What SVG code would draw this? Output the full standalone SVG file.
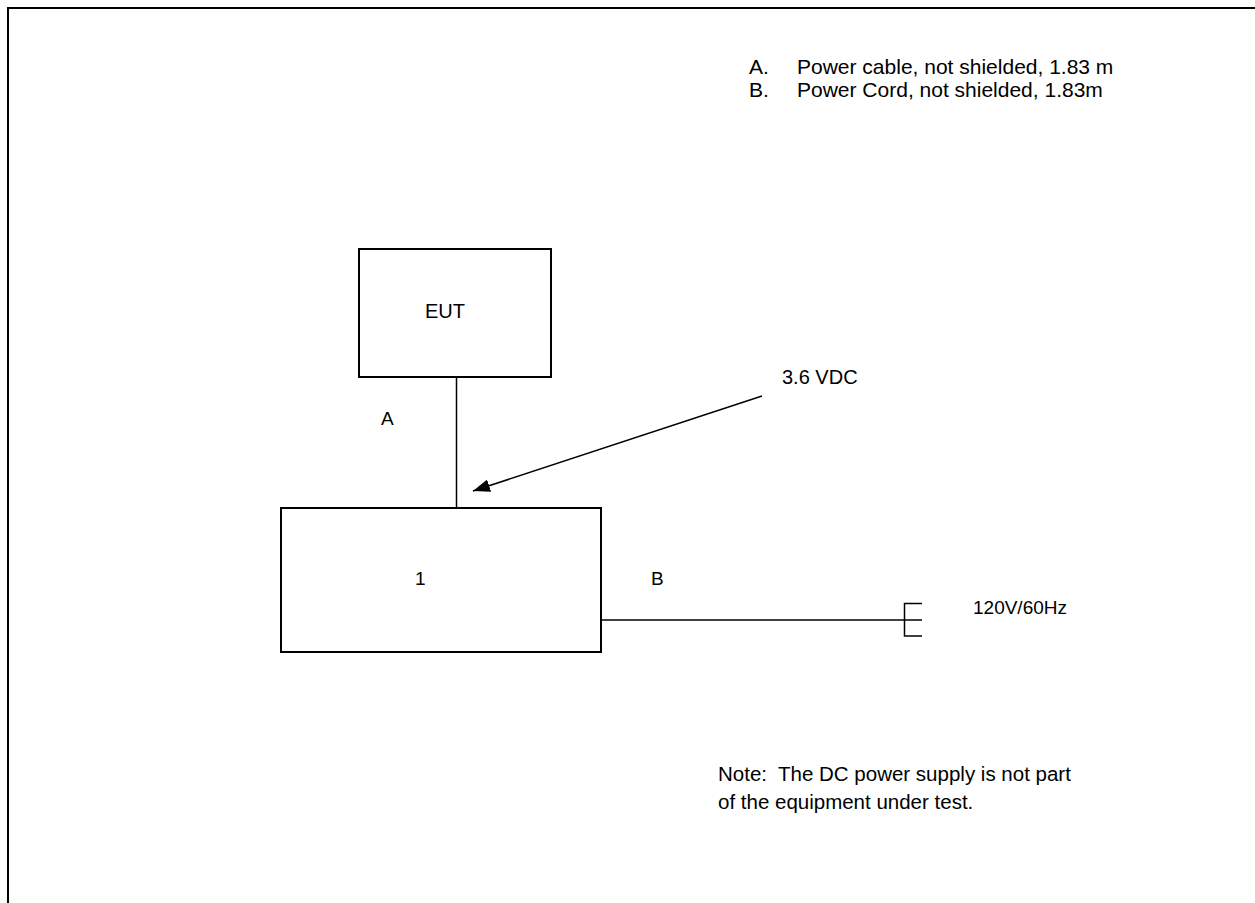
<svg xmlns="http://www.w3.org/2000/svg" width="1255" height="903" viewBox="0 0 1255 903">
<style>
.t{font-family:"Liberation Sans",Arial,sans-serif;font-size:19px;fill:#000}
.l{font-family:"Liberation Sans",Arial,sans-serif;font-size:21px;fill:#000}
.v{font-family:"Liberation Sans",Arial,sans-serif;font-size:20px;fill:#000}
.n{font-family:"Liberation Sans",Arial,sans-serif;font-size:20.5px;fill:#000}
.box{fill:#fff;stroke:#000;stroke-width:2}
.ln{fill:none;stroke:#000;stroke-width:1.5}
</style>
<defs>
<marker id="ah" markerWidth="17" markerHeight="13" refX="17" refY="6.5" orient="auto" markerUnits="userSpaceOnUse" viewBox="0 0 17 13">
<path d="M0,0 L17,6.5 L0,13 z" fill="#000"/>
</marker>
</defs>
<rect width="1255" height="903" fill="#fff"/>
<path d="M8,903 V8 H1255" fill="none" stroke="#000" stroke-width="2"/>
<g id="legend">
<text class="l" x="749" y="74">A.</text><text class="l" x="797" y="74">Power cable, not shielded, 1.83 m</text>
<text class="l" x="749" y="97">B.</text><text class="l" x="797" y="97">Power Cord, not shielded, 1.83m</text>
</g>
<g id="eut">
<rect class="box" x="359" y="249" width="192" height="128"/>
<text class="v" x="425" y="318">EUT</text>
</g>
<g id="psu">
<rect class="box" x="281" y="508" width="320" height="144"/>
<text class="t" x="415" y="585">1</text>
</g>
<g id="plug">
<path class="ln" d="M922,603.5 H904.5 V636 H922 M904.5,620 H922"/>
<text class="t" x="973" y="614">120V/60Hz</text>
</g>
<g id="connectors">
<line class="ln" x1="456.5" y1="377" x2="456.5" y2="508"/>
<line class="ln" x1="601" y1="620" x2="904.5" y2="620"/>
<line class="ln" x1="762" y1="396" x2="473" y2="491" stroke-width="2" marker-end="url(#ah)"/>
</g>
<g id="labels">
<text class="t" x="381" y="425">A</text>
<text class="t" x="651" y="585">B</text>
<text class="v" x="782" y="384">3.6 VDC</text>
</g>
<g id="note">
<text class="n" x="718" y="781" xml:space="preserve">Note:  The DC power supply is not part</text>
<text class="n" x="718" y="809">of the equipment under test.</text>
</g>
</svg>
